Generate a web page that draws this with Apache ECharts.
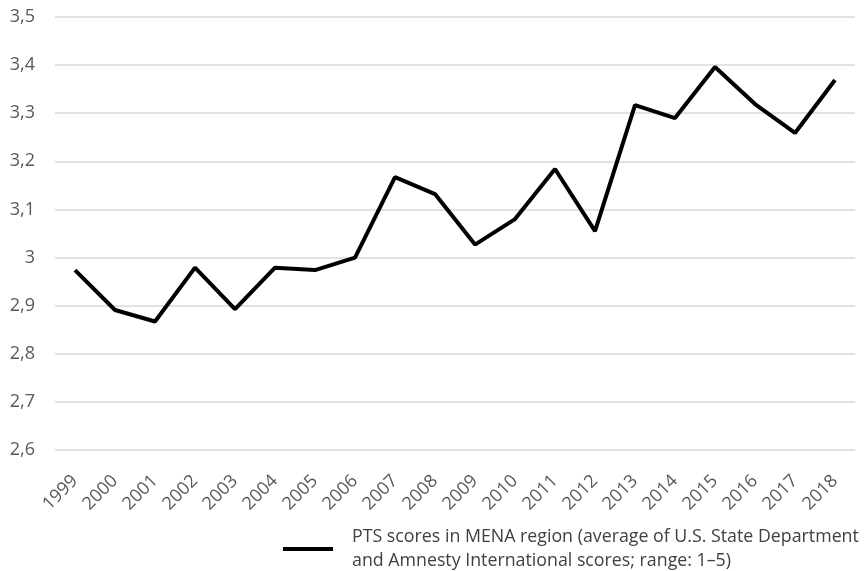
<!DOCTYPE html>
<html>
<head>
<meta charset="utf-8">
<script src="https://cdn.jsdelivr.net/npm/echarts@6/dist/echarts.min.js"></script>
<style>
  html, body { margin: 0; padding: 0; background: #fff; }
  #main { width: 866px; height: 571px; }
</style>
</head>
<body>
<div id="main"></div>
<script>
var years = ['1999', '2000', '2001', '2002', '2003', '2004', '2005', '2006', '2007', '2008',
             '2009', '2010', '2011', '2012', '2013', '2014', '2015', '2016', '2017', '2018'];
var ptsScores = [2.974, 2.891, 2.867, 2.979, 2.893, 2.979, 2.974, 3.0, 3.167, 3.132,
                 3.027, 3.08, 3.184, 3.055, 3.317, 3.29, 3.396, 3.319, 3.259, 3.369];
var seriesName = 'PTS scores in MENA region (average of U.S. State Department\nand Amnesty International scores; range: 1\u20135)';

window.onload = function () {
    var chart = echarts.init(document.getElementById('main'));
    var font = 'Open Sans';

    var option = {
        animation: false,
        grid: {
            left: 55,
            right: 11,
            top: 17,
            bottom: 121
        },
        legend: {
            data: [seriesName],
            left: 283,
            top: 525,
            padding: 0,
            itemWidth: 50,
            itemHeight: 4,
            icon: 'rect',
            textStyle: {
                fontFamily: font,
                fontSize: 17.8,
                color: '#404040',
                lineHeight: 24,
                padding: [0, 0, 0, 14]
            }
        },
        xAxis: {
            type: 'category',
            data: years,
            axisLine: { show: false },
            axisTick: { show: false },
            axisLabel: {
                rotate: 45,
                fontFamily: font,
                fontSize: 18,
                color: '#595959',
                margin: 28
            }
        },
        yAxis: {
            type: 'value',
            min: 2.6,
            max: 3.5,
            interval: 0.1,
            axisLine: { show: false },
            axisTick: { show: false },
            splitLine: { lineStyle: { color: '#d9d9d9', width: 1.5 } },
            axisLabel: {
                fontFamily: font,
                fontSize: 18,
                color: '#595959',
                margin: 20,
                formatter: function (v) {
                    return String(Math.round(v * 10) / 10).replace('.', ',');
                }
            }
        },
        series: [
            {
                name: seriesName,
                type: 'line',
                data: ptsScores,
                showSymbol: false,
                symbol: 'none',
                lineStyle: { color: '#000', width: 4 },
                itemStyle: { color: '#000' }
            }
        ]
    };

    chart.setOption(option);
};
</script>
</body>
</html>
